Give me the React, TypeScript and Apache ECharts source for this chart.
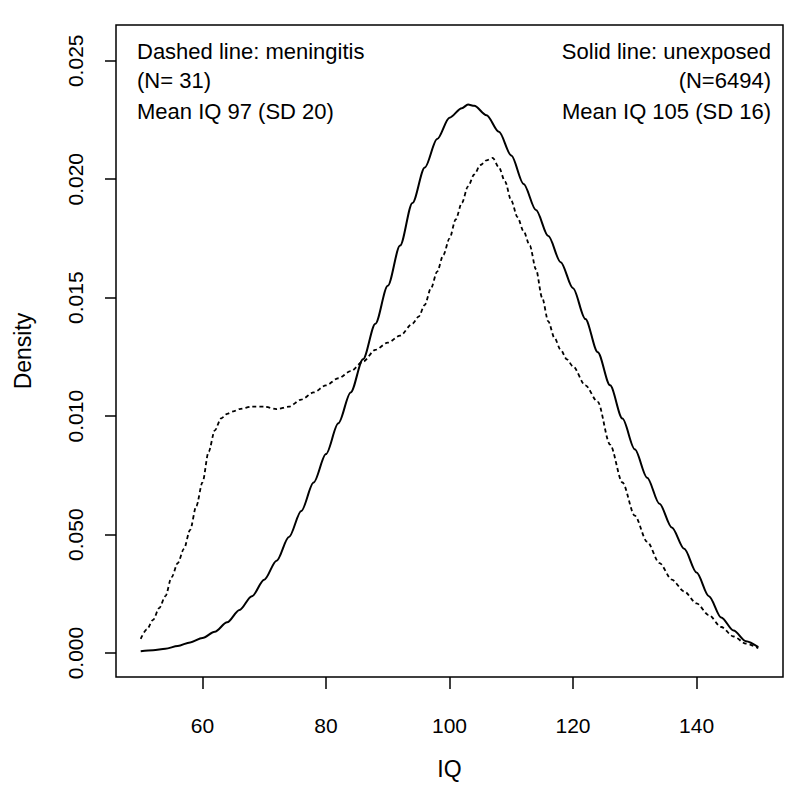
import React, { useEffect, useRef } from "react";
import * as echarts from "echarts";

const xTickValues = [60, 80, 100, 120, 140];
const yTickValues = [0, 0.005, 0.01, 0.015, 0.02, 0.025];
const yTickLabels = ["0.000", "0.050", "0.010", "0.015", "0.020", "0.025"];

const iqUnexposed = [50, 52, 54, 56, 58, 60, 62, 64, 66, 68, 70, 72, 74, 76, 78, 80, 82, 84, 86, 88, 90, 92, 94, 96, 98, 100, 102, 103, 104, 106, 108, 110, 112, 114, 116, 118, 120, 122, 124, 126, 128, 130, 132, 134, 136, 138, 140, 142, 144, 146, 148, 150];
const densUnexposed = [0.00008, 0.00012, 0.00018, 0.0003, 0.00045, 0.00064, 0.0009, 0.0013, 0.00182, 0.0024, 0.0031, 0.0039, 0.0049, 0.006, 0.0072, 0.0084, 0.0097, 0.011, 0.0124, 0.0139, 0.0155, 0.0172, 0.019, 0.0205, 0.0217, 0.0226, 0.023, 0.02315, 0.0231, 0.0227, 0.022, 0.021, 0.0198, 0.0187, 0.0176, 0.0165, 0.0154, 0.0141, 0.0127, 0.0113, 0.0099, 0.0086, 0.0074, 0.0063, 0.0053, 0.0044, 0.0034, 0.0024, 0.0015, 0.00095, 0.0005, 0.00025];

const iqMeningitis = [50, 51, 52, 53, 54, 55, 56, 57, 58, 59, 60, 61, 62, 63, 64, 65, 66, 68, 70, 72, 74, 76, 78, 80, 82, 84, 86, 88, 90, 92, 94, 95, 96, 97, 98, 99, 100, 101, 102, 103, 104, 105, 106, 107, 108, 109, 110, 111, 112, 113, 114, 115, 116, 117, 118, 119, 120, 122, 124, 126, 128, 130, 132, 134, 136, 138, 140, 142, 144, 146, 148, 150];
const densMeningitis = [0.0006, 0.001, 0.0014, 0.0019, 0.0024, 0.0032, 0.0038, 0.0044, 0.0052, 0.0062, 0.0072, 0.0085, 0.0094, 0.0099, 0.0101, 0.0102, 0.0103, 0.0104, 0.0104, 0.0103, 0.0104, 0.0107, 0.011, 0.0113, 0.0116, 0.0119, 0.0123, 0.0128, 0.0131, 0.0134, 0.0139, 0.0142, 0.0147, 0.0154, 0.0161, 0.0168, 0.0175, 0.0183, 0.019, 0.0197, 0.0202, 0.0206, 0.0208, 0.0209, 0.0205, 0.0199, 0.0191, 0.0184, 0.0178, 0.0172, 0.0162, 0.015, 0.014, 0.0133, 0.0128, 0.0124, 0.0121, 0.0113, 0.0106, 0.0088, 0.0072, 0.0058, 0.0047, 0.0038, 0.0031, 0.0026, 0.0021, 0.0016, 0.0011, 0.0007, 0.0004, 0.0002];

const leftNotes = ["Dashed line: meningitis", "(N= 31)", "Mean IQ 97 (SD 20)"];
const rightNotes = ["Solid line: unexposed", "(N=6494)", "Mean IQ 105 (SD 16)"];

const FONT = "'Liberation Sans', Arial, Helvetica, sans-serif";

export default function App() {
  const ref = useRef<HTMLDivElement>(null);
  useEffect(() => {
    document.body.style.margin = "0";
    if (!ref.current) return;
    const chart = echarts.init(ref.current, null, { renderer: "svg" });
    const noteYs = [51, 80, 111];
    const graphics: any[] = [];
    leftNotes.forEach((t, i) => {
      graphics.push({
        type: "text",
        x: 137,
        y: noteYs[i],
        style: { text: t, fill: "#000", font: `22px ${FONT}`, align: "left", verticalAlign: "middle" },
      });
    });
    rightNotes.forEach((t, i) => {
      graphics.push({
        type: "text",
        x: 771,
        y: noteYs[i],
        style: { text: t, fill: "#000", font: `22px ${FONT}`, align: "right", verticalAlign: "middle" },
      });
    });
    chart.setOption({
      animation: false,
      backgroundColor: "#fff",
      textStyle: { fontFamily: FONT, color: "#000" },
      grid: {
        left: 116,
        right: 17,
        top: 25,
        bottom: 118,
        show: true,
        borderColor: "#000",
        borderWidth: 1.5,
        backgroundColor: "transparent",
      },
      xAxis: {
        type: "value",
        min: 46,
        max: 154,
        name: "IQ",
        nameLocation: "middle",
        nameGap: 80,
        nameTextStyle: { fontSize: 23, color: "#000", fontFamily: FONT },
        axisLine: { show: false, onZero: false },
        splitLine: { show: false },
        axisTick: { show: true, inside: false, length: 12, customValues: xTickValues, lineStyle: { color: "#000", width: 1.5 } },
        axisLabel: { customValues: xTickValues, margin: 38, fontSize: 21, color: "#000", fontFamily: FONT },
      },
      yAxis: {
        type: "value",
        min: -0.00101,
        max: 0.02651,
        name: "Density",
        nameLocation: "middle",
        nameGap: 82,
        nameTextStyle: { fontSize: 23, color: "#000", fontFamily: FONT },
        axisLine: { show: false, onZero: false },
        splitLine: { show: false },
        axisTick: { show: true, inside: false, length: 11, customValues: yTickValues, lineStyle: { color: "#000", width: 1.5 } },
        axisLabel: {
          customValues: yTickValues,
          rotate: 90,
          margin: 30,
          fontSize: 21,
          color: "#000",
          fontFamily: FONT,
          formatter: (v: number) => {
            const i = yTickValues.findIndex((t) => Math.abs(t - v) < 1e-9);
            return i >= 0 ? yTickLabels[i] : "";
          },
        },
      },
      series: [
        {
          name: "unexposed",
          type: "line",
          data: iqUnexposed.map((x, i) => [x, densUnexposed[i]]),
          showSymbol: false,
          symbol: "none",
          smooth: 0.3,
          smoothMonotone: "x",
          lineStyle: { color: "#000", width: 2, type: "solid" },
        },
        {
          name: "meningitis",
          type: "line",
          data: iqMeningitis.map((x, i) => [x, densMeningitis[i]]),
          showSymbol: false,
          symbol: "none",
          smooth: 0.3,
          smoothMonotone: "x",
          lineStyle: { color: "#000", width: 1.8, type: [4, 3] },
        },
      ],
      graphic: graphics,
    });
    return () => chart.dispose();
  }, []);
  return <div ref={ref} style={{ width: 800, height: 795 }} />;
}
